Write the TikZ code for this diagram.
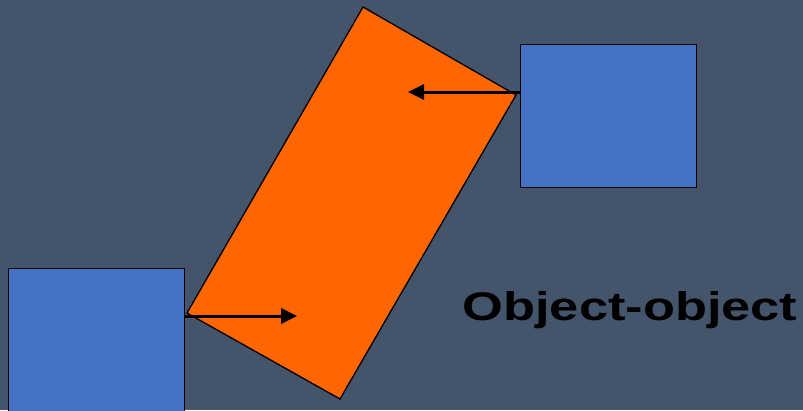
\documentclass[tikz,border=0pt]{standalone}
\usepackage{fontspec}
\setmainfont{Liberation Sans}
\usetikzlibrary{arrows.meta}
\definecolor{bg}{HTML}{44546A}
\definecolor{boxblue}{HTML}{4472C4}
\definecolor{orng}{HTML}{FF6600}
\begin{document}
\begin{tikzpicture}[x=1pt,y=-1pt,
  sq/.style={draw=black,line width=1.3pt,fill=boxblue,inner sep=0pt,minimum width=176pt,minimum height=143pt},
  arr/.style={line width=3pt,-{Triangle[length=16pt,width=15pt]}},
  lbl/.style={font=\fontsize{40}{46}\selectfont\bfseries,text=black,inner sep=0pt,anchor=base,xscale=1.31}]
\fill[bg] (0,0) rectangle (803,410);
\clip (0,0) rectangle (803,410);
\coordinate (o1) at (363,7);
\coordinate (o2) at (516,95);
\coordinate (o3) at (340,399);
\coordinate (o4) at (187,313);
\draw[fill=orng,line width=1.3pt,line join=miter] (o1) -- (o2) -- (o3) -- (o4) -- cycle;
\node[sq,anchor=north west] (tr) at (520,44) {};
\node[sq,anchor=north west,minimum height=160pt] (bl) at (8,268) {};
\coordinate (t1) at (408,92);
\coordinate (t2) at (297,316);
\draw[arr] (tr.west |- t1) -- (t1);
\draw[arr] (bl.east |- t2) -- (t2);
\node[lbl] (txt) at (630,320) {Object-object};
\end{tikzpicture}
\end{document}
